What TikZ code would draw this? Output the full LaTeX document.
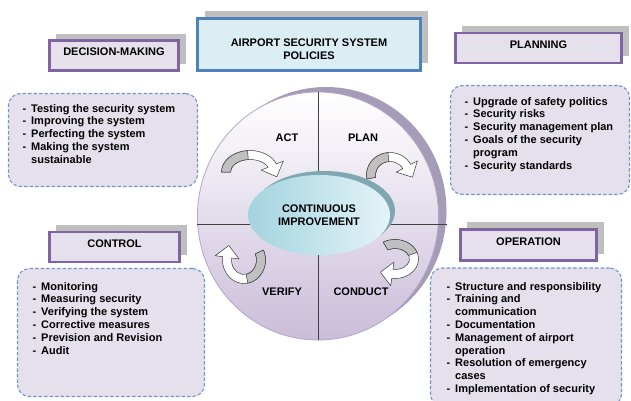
\documentclass[tikz,border=0pt]{standalone}
\usepackage{fontspec}
\setmainfont{Liberation Sans}
\usetikzlibrary{shapes,shadows,calc}

\definecolor{headpurple}{HTML}{8064A2}
\definecolor{lavfill}{HTML}{E5E0EC}
\definecolor{shadowgray}{HTML}{BFBFBF}
\definecolor{policyblue}{HTML}{4F81BD}
\definecolor{policyfill}{HTML}{DBEEF4}
\definecolor{listblue}{HTML}{6F96C9}
\definecolor{ringedge}{HTML}{B5A6C9}
\definecolor{ringshade}{HTML}{A69CB7}
\definecolor{ringlow}{HTML}{CABDD9}
\definecolor{hubleft}{HTML}{A3D4E0}
\definecolor{hubright}{HTML}{E4F3F7}
\definecolor{hubshade}{HTML}{7FA7B1}
\definecolor{dividergray}{HTML}{404040}
\definecolor{turngray}{HTML}{C0C0C0}
\definecolor{turnedge}{HTML}{3A3A3A}

\tikzset{
	headbox/.style   = {draw=headpurple, line width=2.6pt, fill=lavfill,
		minimum height=30pt, text height=6pt, text depth=6pt,
		drop shadow={shadow xshift=7pt, shadow yshift=7pt, fill=shadowgray, opacity=1}},
	policybox/.style = {draw=policyblue, line width=2.8pt, fill=policyfill,
		minimum width=223pt, minimum height=52pt,
		drop shadow={shadow xshift=7pt, shadow yshift=8pt, fill=shadowgray, opacity=1}},
	listbox/.style   = {draw=listblue, dash pattern=on 3.5pt off 2pt, line width=1.1pt,
		fill=lavfill, rounded corners=12pt},
	listtext/.style  = {anchor=north west, align=left, inner sep=0pt},
	pdcaring/.style  = {ellipse, draw=ringedge, line width=0.8pt,
		top color=white, bottom color=ringlow,
		minimum width=241pt, minimum height=248pt,
		drop shadow={shadow xshift=8pt, shadow yshift=5pt, fill=ringshade, opacity=1}},
	hub/.style       = {ellipse, left color=hubleft, right color=hubright,
		minimum width=142pt, minimum height=80pt, align=center,
		drop shadow={shadow xshift=5pt, shadow yshift=4pt, fill=hubshade, opacity=1}},
	divider/.style   = {draw=dividergray, line width=0.6pt},
	turnfront/.style = {fill=white, draw=turnedge, line width=0.5pt, line join=round},
	turnback/.style  = {fill=turngray, draw=turnedge, line width=0.5pt, line join=round}
}
\newcommand{\lidash}{\makebox[8.5pt][l]{-}}
\newcommand{\licont}{\makebox[8.5pt]{}}
% #1 centre, #2 x radius, #3 y radius, #4 start, #5 end of band, #6 end of grey part
\newcommand{\turnarrow}[6]{
	\begin{scope}[shift={#1}]
		\filldraw[turnfront]
		({#4}:{#2+4.5} and {#3+4.5}) arc[start angle={#4}, end angle={#5}, x radius={#2+4.5}, y radius={#3+4.5}]
		-- ({#5}:{#2+12} and {#3+12})
		-- ($({#5}:{#2} and {#3})!12pt!-90:({#5}:{#2+6} and {#3+6})$)
		-- ({#5}:{#2-12} and {#3-12})
		-- ({#5}:{#2-4.5} and {#3-4.5}) arc[start angle={#5}, end angle={#4}, x radius={#2-4.5}, y radius={#3-4.5}]
		-- cycle;
		\filldraw[turnback]
		({#4}:{#2+4.5} and {#3+4.5}) arc[start angle={#4}, end angle={#6}, x radius={#2+4.5}, y radius={#3+4.5}]
		-- ({#6}:{#2-4.5} and {#3-4.5}) arc[start angle={#6}, end angle={#4}, x radius={#2-4.5}, y radius={#3-4.5}]
		-- cycle;
	\end{scope}}

\begin{document}
\begin{tikzpicture}[x=1pt, y=1pt, font=\fontsize{11}{12.8}\selectfont\bfseries]
	\useasboundingbox (0,0) rectangle (631,-400);

	% the cycle
	\draw node at (318,-216) [pdcaring] (ring) {};
	\draw[divider] (ring.north) -- (ring.south);
	\draw[divider] ([yshift=-8pt]ring.west) -- ++(250,0);
	\draw node at (319,-215) [hub] (hub) {CONTINUOUS\\IMPROVEMENT};

	\draw
	node at (287,-138) (act) {ACT}
	node at (363,-138) (plan) {PLAN}
	node at (282,-292) (verify) {VERIFY}
	node at (361,-292) (conduct) {CONDUCT};

	\turnarrow{(250,-172)}{24}{17}{180}{22}{95}
	\turnarrow{(390,-175)}{19}{18}{190}{28}{95}
	\turnarrow{(395,-259)}{19}{15}{120}{-98}{20}
	\turnarrow{(244,-260)}{17}{19}{25}{-188}{-80}

	% title and headings
	\draw node at (309,-44.5) [policybox] (policy) {};
	\draw node at (309,-49.5) [align=center] (policytext) {AIRPORT SECURITY SYSTEM\\POLICIES};

	\draw
	node at (114,-55.5) [headbox, minimum width=129.4pt] (dmhead) {DECISION-MAKING}
	node at (538.5,-48) [headbox, minimum width=166.4pt] (planhead) {PLANNING}
	node at (114.5,-247) [headbox, minimum width=130.4pt] (ctrlhead) {CONTROL}
	node at (528.5,-245) [headbox, minimum width=136.4pt, minimum height=31.4pt] (ophead) {OPERATION};

	% lists
	\draw
	node at (103,-140) [listbox, minimum width=189pt, minimum height=93pt] (dmbox) {}
	node at (540,-140) [listbox, minimum width=179pt, minimum height=109pt] (planbox) {}
	node at (111,-332.5) [listbox, minimum width=187pt, minimum height=128pt] (ctrlbox) {}
	node at (526,-337) [listbox, minimum width=191pt, minimum height=138pt] (opbox) {};

	\node[listtext] (dmlist) at (22.5,-104) {\lidash Testing the security system\\
		\lidash Improving the system\\ \lidash Perfecting the system\\
		\lidash Making the system\\ \licont sustainable};
	\node[listtext] (planlist) at (464.5,-97) {\lidash Upgrade of safety politics\\
		\lidash Security risks\\ \lidash Security management plan\\
		\lidash Goals of the security\\ \licont program\\ \lidash Security standards};
	\node[listtext] (ctrllist) at (32.5,-282) {\lidash Monitoring\\ \lidash Measuring security\\
		\lidash Verifying the system\\ \lidash Corrective measures\\
		\lidash Prevision and Revision\\ \lidash Audit};
	\node[listtext] (oplist) at (446.5,-282) {\lidash Structure and responsibility\\
		\lidash Training and\\ \licont communication\\ \lidash Documentation\\
		\lidash Management of airport\\ \licont operation\\
		\lidash Resolution of emergency\\ \licont cases\\ \lidash Implementation of security};

\end{tikzpicture}
\end{document}
